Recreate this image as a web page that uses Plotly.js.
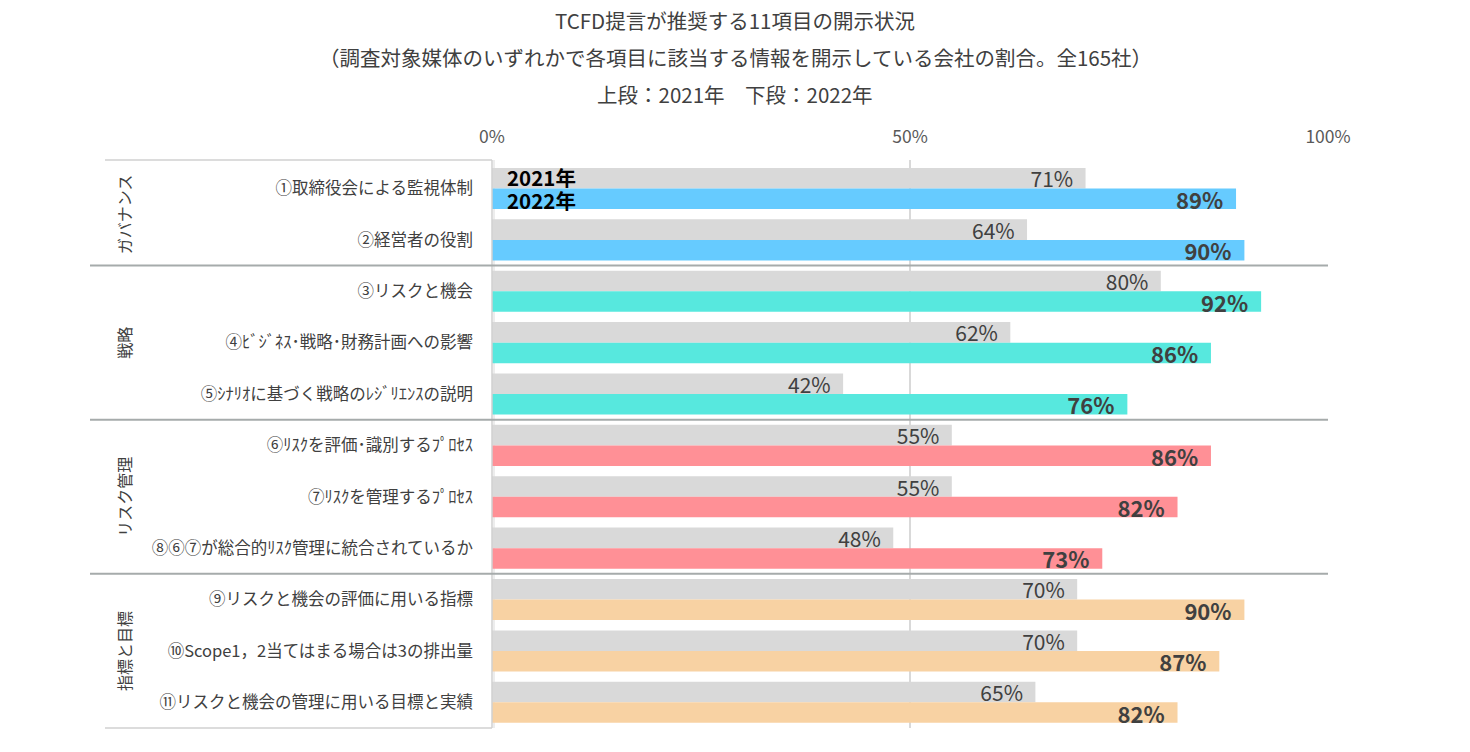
<!DOCTYPE html>
<html>
<head>
<meta charset="utf-8">
<script src="https://cdn.plot.ly/plotly-3.0.1.min.js"></script>
<style>html,body{margin:0;padding:0;background:#fff;}#chart{width:1470px;height:752px;}</style>
</head>
<body>
<div id="chart"></div>
<script>
const items = [
  "①取締役会による監視体制",
  "②経営者の役割",
  "③リスクと機会",
  "④ﾋﾞｼﾞﾈｽ･戦略･財務計画への影響",
  "⑤ｼﾅﾘｵに基づく戦略のﾚｼﾞﾘｴﾝｽの説明",
  "⑥ﾘｽｸを評価･識別するﾌﾟﾛｾｽ",
  "⑦ﾘｽｸを管理するﾌﾟﾛｾｽ",
  "⑧⑥⑦が総合的ﾘｽｸ管理に統合されているか",
  "⑨リスクと機会の評価に用いる指標",
  "⑩Scope1，2当てはまる場合は3の排出量",
  "⑪リスクと機会の管理に用いる目標と実績"
];
const values2021 = [71, 64, 80, 62, 42, 55, 55, 48, 70, 70, 65];
const values2022 = [89, 90, 92, 86, 76, 86, 82, 73, 90, 87, 82];
const groups = ["ガバナンス", "戦略", "リスク管理", "指標と目標"];
const groupSizes = [2, 3, 3, 3];
const groupColors = ["#66CBFF", "#57E8DE", "#FF9096", "#F8D2A3"];
const seriesNames = ["2021年", "2022年"];
const xTicks = [0, 50, 100];

const FONT = "'Noto Sans CJK JP', 'Noto Sans', sans-serif";
const TXT = "#404040";

const colors2022 = [];
groupSizes.forEach((n, g) => { for (let i = 0; i < n; i++) colors2022.push(groupColors[g]); });

const trace2021 = {
  type: "bar", orientation: "h", name: seriesNames[0],
  x: values2021, y: items,
  marker: { color: "#D9D9D9" },
  texttemplate: "%{x}%\u00a0\u00a0", textposition: "inside", insidetextanchor: "end",
  constraintext: "none", cliponaxis: false,
  insidetextfont: { family: FONT, size: 21, color: TXT },
  hoverinfo: "skip"
};
const trace2022 = {
  type: "bar", orientation: "h", name: seriesNames[1],
  x: values2022, y: items,
  marker: { color: colors2022 },
  texttemplate: "<b>%{x}%</b>\u00a0\u00a0", textposition: "inside", insidetextanchor: "end",
  constraintext: "none", cliponaxis: false,
  insidetextfont: { family: FONT, size: 22, color: TXT },
  hoverinfo: "skip"
};

const L = 492, R = 1328, T = 160, B = 728;
const W = R - L, H = B - T;
const px2x = p => (p - L) / W;
const px2y = p => (B - p) / H;

const shapes = [];
// left label box: top, bottom, right borders
shapes.push({ type: "line", xref: "paper", yref: "paper", x0: px2x(105), x1: 0, y0: 1, y1: 1,
  line: { color: "#D0D0D0", width: 1.5 }, layer: "above" });
shapes.push({ type: "line", xref: "paper", yref: "paper", x0: px2x(105), x1: 0, y0: 0, y1: 0,
  line: { color: "#D0D0D0", width: 1.5 }, layer: "above" });
shapes.push({ type: "line", xref: "paper", yref: "paper", x0: 0, x1: 0, y0: 0, y1: 1,
  line: { color: "#D0D0D0", width: 1.5 }, layer: "above" });
shapes.push({ type: "line", xref: "paper", yref: "paper", x0: px2x(494), x1: px2x(494), y0: 0, y1: 1,
  line: { color: "#EDEDED", width: 2 }, layer: "below" });
// group separators
let acc = 0;
groupSizes.slice(0, -1).forEach(n => {
  acc += n;
  shapes.push({ type: "line", xref: "paper", yref: "y", x0: px2x(90), x1: 1, y0: acc - 0.5, y1: acc - 0.5,
    line: { color: "#A6ABAB", width: 2 }, layer: "above" });
});

const annotations = [];
const titles = [
  "TCFD提言が推奨する11項目の開示状況",
  "（調査対象媒体のいずれかで各項目に該当する情報を開示している会社の割合。全165社）",
  "上段：2021年　下段：2022年"
];
[20, 57, 94].forEach((py, i) => {
  annotations.push({ xref: "paper", yref: "paper", x: px2x(735), y: px2y(py), text: titles[i],
    showarrow: false, xanchor: "center", yanchor: "middle", font: { family: FONT, size: 20.5, color: TXT } });
});
// group labels
acc = 0;
groupSizes.forEach((n, g) => {
  const c = acc + (n - 1) / 2;
  acc += n;
  annotations.push({ xref: "paper", yref: "y", x: px2x(124), y: c, text: groups[g], textangle: -90,
    showarrow: false, xanchor: "center", yanchor: "middle", font: { family: FONT, size: 16, color: TXT } });
});
// series labels
annotations.push({ xref: "x", yref: "y", x: 0, y: items[0], xshift: 13, yshift: 11.5, text: "<b>" + seriesNames[0] + "</b>",
  showarrow: false, xanchor: "left", yanchor: "middle", font: { family: FONT, size: 20.5, color: "#000" } });
annotations.push({ xref: "x", yref: "y", x: 0, y: items[0], xshift: 13, yshift: -11.5, text: "<b>" + seriesNames[1] + "</b>",
  showarrow: false, xanchor: "left", yanchor: "middle", font: { family: FONT, size: 20.5, color: "#000" } });

const layout = {
  width: 1470, height: 752,
  margin: { l: L, r: 1470 - R, t: T, b: 752 - B },
  paper_bgcolor: "#fff", plot_bgcolor: "#fff",
  barmode: "group", bargap: 0.2, bargroupgap: 0,
  showlegend: false,
  font: { family: FONT, color: TXT },
  xaxis: {
    side: "top", range: [0, 100], tickvals: xTicks, ticktext: xTicks.map(v => v + "%"),
    showgrid: true, gridcolor: "#D9D9D9", gridwidth: 1.5, zeroline: false, showline: false,
    ticks: "", ticklabelstandoff: 13, tickfont: { family: FONT, size: 17.5, color: "#595959" },
    fixedrange: true
  },
  yaxis: {
    type: "category", categoryorder: "array", categoryarray: items, autorange: "reversed",
    showgrid: false, zeroline: false, showline: false, ticks: "", ticklabelstandoff: 18,
    tickfont: { family: FONT, size: 16.5, color: TXT }, fixedrange: true
  },
  shapes: shapes,
  annotations: annotations
};

Plotly.newPlot("chart", [trace2021, trace2022], layout, { displayModeBar: false, staticPlot: true });
</script>
</body>
</html>
